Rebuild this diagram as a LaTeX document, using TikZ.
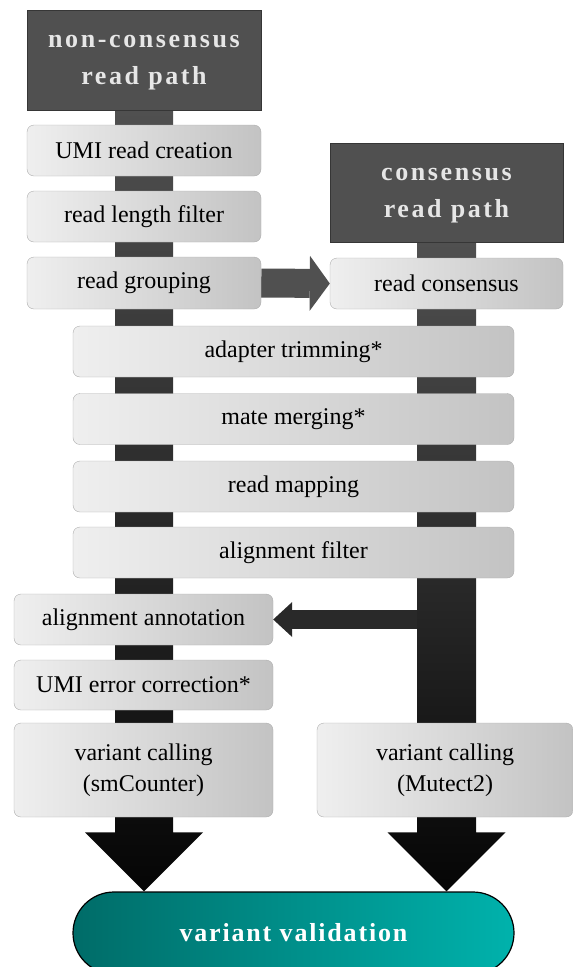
\documentclass[tikz,border=0pt]{standalone}
\usepackage{fontspec}
\setmainfont{Liberation Serif}
\usetikzlibrary{calc,arrows.meta}
\pgfdeclarelayer{background}
\pgfsetlayers{background,main}

\definecolor{boxlight}{HTML}{EFEFEF}
\definecolor{boxdark}{HTML}{C3C3C3}
\definecolor{boxline}{HTML}{ADADAD}
\definecolor{headfill}{HTML}{505050}
\definecolor{headline}{HTML}{363636}
\definecolor{headtext}{HTML}{E6E6E6}
\definecolor{shafttop}{HTML}{505050}
\definecolor{shaftbot}{HTML}{050505}
\definecolor{pilldark}{HTML}{006C68}
\definecolor{pilllight}{HTML}{00B2AC}

\tikzstyle{stepbox}=[draw=boxline, rounded corners=7pt, left color=boxlight, right color=boxdark, inner sep=0pt, align=center, font=\fontsize{24}{31}\selectfont]
\tikzstyle{pathhead}=[draw=headline, fill=headfill, text=headtext, inner sep=0pt, align=center, text depth=-6pt, font=\fontsize{26}{37}\selectfont\bfseries\addfontfeature{LetterSpace=10}]
\tikzstyle{shaft}=[top color=shafttop, bottom color=shaftbot]

\begin{document}
\begin{tikzpicture}[x=1pt, y=-1pt]
      \useasboundingbox (0,0) rectangle (573,967);
      \clip (0,0) rectangle (573,967);
      % path headers
      \node[pathhead, minimum width=234, minimum height=100](nchead) at (144, 60) {non-consensus\\read path};
      \node[pathhead, minimum width=233, minimum height=99](chead) at (446.5, 192.5) {consensus\\read path};
      % non-consensus steps
      \node[stepbox, minimum width=234, minimum height=51](umi) at (144, 150.5) {UMI read creation};
      \node[stepbox, minimum width=234, minimum height=51](lenfilt) at (144, 216.5) {read length filter};
      \node[stepbox, minimum width=234, minimum height=52](group) at (144, 283) {read grouping};
      \node[stepbox, minimum width=233, minimum height=51](cons) at (446.5, 283.5) {read consensus};
      % shared steps
      \node[stepbox, minimum width=441, minimum height=51](trim) at (293.5, 351.5) {adapter trimming*};
      \node[stepbox, minimum width=441, minimum height=51](merge) at (293.5, 419) {mate merging*};
      \node[stepbox, minimum width=441, minimum height=51](mapping) at (293.5, 486.5) {read mapping};
      \node[stepbox, minimum width=441, minimum height=51](alnfilt) at (293.5, 552.5) {alignment filter};
      \node[stepbox, minimum width=259, minimum height=51](annot) at (143.5, 619.5) {alignment annotation};
      \node[stepbox, minimum width=259, minimum height=50](umierr) at (143.5, 685) {UMI error correction*};
      \node[stepbox, minimum width=259, minimum height=94](callnc) at (143.5, 770) {variant calling\\(smCounter)};
      \node[stepbox, minimum width=256, minimum height=94](callc) at (445, 770) {variant calling\\(Mutect2)};
      \node[draw=black, line width=1.2pt, rounded corners=41pt, left color=pilldark, right color=pilllight, text=white,
            minimum width=441, minimum height=82, inner sep=0pt,
            font=\fontsize{26}{30}\selectfont\bfseries\addfontfeature{LetterSpace=7}](valid) at (293.5, 933) {variant validation};
      \coordinate (tipnc) at (nchead.south |- valid.north);
      \coordinate (tipc) at (chead.south |- valid.north);
      \coordinate (tap) at (chead.south |- annot.east);
      % block arrows behind the boxes
      \begin{pgfonlayer}{background}
        \draw[line width=19pt, color=black!84, -{Triangle[length=19pt, width=35pt, line width=0pt]}] (tap) -- (annot.east);
        \draw[line width=29pt, color=headfill, -{Triangle[length=20pt, width=55pt, line width=0pt]}] (group.east) -- (cons.west);
        \shade[shaft] ($(nchead.south)+(-29,0)$) -- ($(nchead.south)+(29,0)$) -- ($(tipnc)+(29,-59)$) -- ($(tipnc)+(59,-59)$)
          -- (tipnc) -- ($(tipnc)+(-59,-59)$) -- ($(tipnc)+(-29,-59)$) -- cycle;
        \shade[shaft] ($(chead.south)+(-29.5,0)$) -- ($(chead.south)+(29.5,0)$) -- ($(tipc)+(29.5,-59)$) -- ($(tipc)+(59,-59)$)
          -- (tipc) -- ($(tipc)+(-59,-59)$) -- ($(tipc)+(-29.5,-59)$) -- cycle;
      \end{pgfonlayer}
    \end{tikzpicture}
\end{document}
